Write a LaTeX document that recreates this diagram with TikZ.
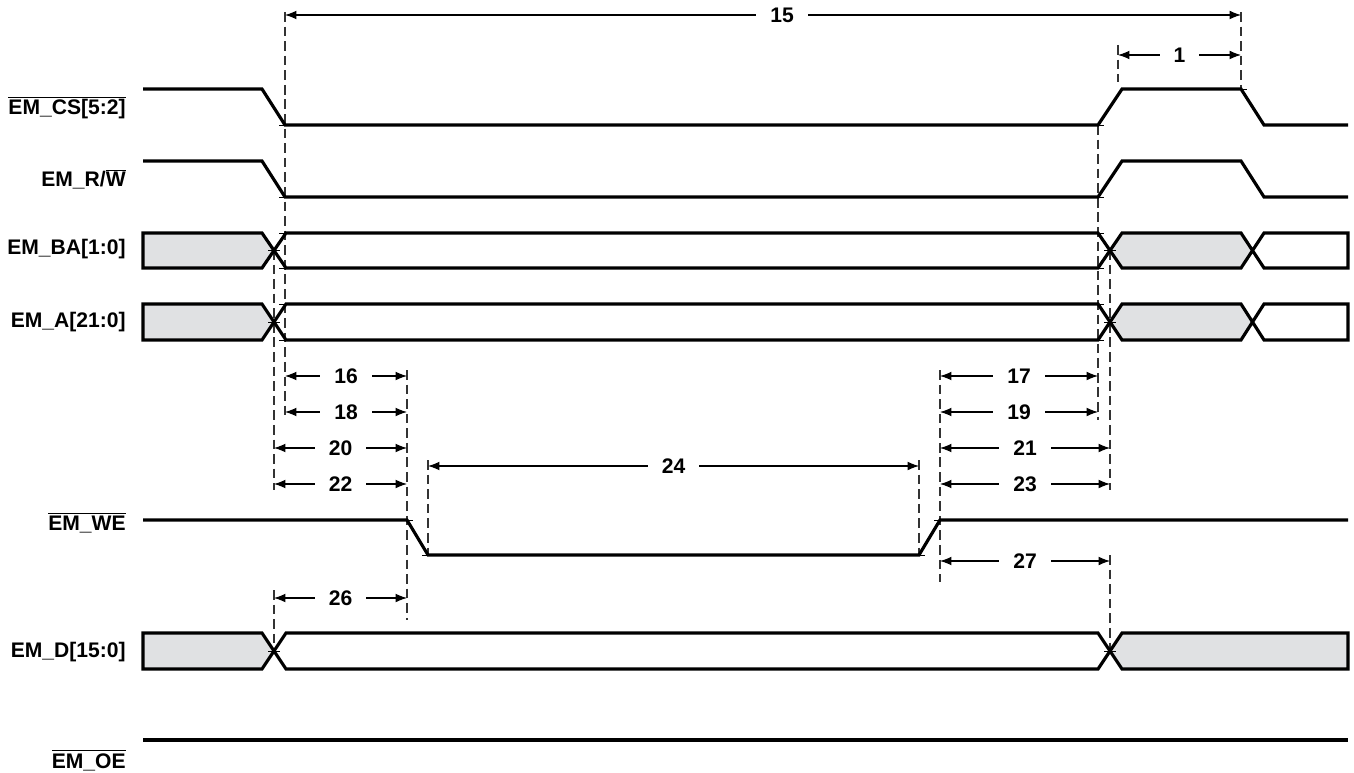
\documentclass[tikz,border=0pt]{standalone}
\usepackage{fontspec}
\setmainfont{Liberation Sans}
\usepackage{tikz}
\usetikzlibrary{arrows.meta}

\newcommand{\ovl}[1]{$\overline{\mbox{#1}}$}
\definecolor{busgray}{RGB}{224,225,227}

\begin{document}
\begin{tikzpicture}[x=0.02cm, y=-0.02cm,
    sig/.style={line width=1.8pt, line join=miter},
    guide/.style={black!80, line width=0.6pt, dash pattern=on 5.5pt off 2.8pt},
    dim/.style={line width=0.6pt, {Latex[length=6.5pt,width=5pt]}-{Latex[length=6.5pt,width=5pt]}},
    dimlbl/.style={fill=white, inner xsep=8pt, inner ysep=1pt, font=\fontsize{12}{14}\selectfont\bfseries},
    siglbl/.style={anchor=base east, inner sep=0pt, font=\fontsize{12}{14}\selectfont\bfseries}]
\useasboundingbox (0,0) rectangle (1354,773);

% signal names
\node[siglbl] (cs) at (126,115) {\ovl{EM\_CS[5:2]}};
\node[siglbl] (rw) at (126,187) {EM\_R/\ovl{W}};
\node[siglbl] (ba) at (126,255) {EM\_BA[1:0]};
\node[siglbl] (ad) at (126,327) {EM\_A[21:0]};
\node[siglbl] (we) at (126,530) {\ovl{EM\_WE}};
\node[siglbl] (dd) at (126,657) {EM\_D[15:0]};
\node[siglbl] (oe) at (126,768) {\ovl{EM\_OE}};

% guide lines
\foreach \xx/\ya/\yb in {285/12/420, 274/250/490, 274/590/650, 407/370/620,
    428/460/555, 919/460/555, 940/370/582, 1098/125/420, 1110/250/490,
    1110/555/650, 1241/12/89, 1118/45/82}
    \draw[guide] (\xx,\ya) -- (\xx,\yb);

% chip select and read/write
\foreach \hi/\lo in {89/125, 161/197}
    \draw[sig] (143,\hi) -- (262,\hi) -- (285,\lo) -- (1098,\lo) -- (1122,\hi)
        -- (1241,\hi) -- (1264,\lo) -- (1348,\lo);

% address buses
\foreach \tp/\bt in {233/268, 304/340} {
    \fill[busgray] (143,\tp) -- (262,\tp) -- (274,{(\tp+\bt)/2}) -- (262,\bt) -- (143,\bt) -- cycle;
    \fill[busgray] (1122,\tp) -- (1241,\tp) -- (1253,{(\tp+\bt)/2}) -- (1241,\bt)
        -- (1122,\bt) -- (1110,{(\tp+\bt)/2}) -- cycle;
    \draw[sig] (143,\tp) -- (262,\tp) -- (286,\bt) -- (1098,\bt) -- (1122,\tp) -- (1241,\tp)
        -- (1264,\bt) -- (1348,\bt) -- (1348,\tp) -- (1264,\tp) -- (1241,\bt) -- (1122,\bt)
        -- (1098,\tp) -- (286,\tp) -- (262,\bt) -- (143,\bt) -- cycle;
}

% write enable
\draw[sig] (143,520) -- (407,520) -- (428,555) -- (919,555) -- (940,520) -- (1348,520);

% data bus
\fill[busgray] (143,633) -- (262,633) -- (274,651) -- (262,669) -- (143,669) -- cycle;
\fill[busgray] (1348,633) -- (1122,633) -- (1110,651) -- (1122,669) -- (1348,669) -- cycle;
\draw[sig] (143,633) -- (262,633) -- (286,669) -- (1098,669) -- (1122,633) -- (1348,633)
    -- (1348,669) -- (1122,669) -- (1098,633) -- (286,633) -- (262,669) -- (143,669) -- cycle;

% output enable
\draw[sig] (143,740) -- (1348,740);

% small ticks
\foreach \xx/\yy in {285/125, 1098/125, 1241/89, 285/197, 1098/197,
    285/233, 285/268, 274/250, 1098/233, 1098/268, 1110/250,
    285/304, 285/340, 274/322, 1098/304, 1098/340, 1110/322,
    407/520, 428/555, 919/555, 940/520, 274/651, 1110/651}
    \draw[line width=0.5pt] (\xx-6,\yy) -- (\xx+6,\yy);

% timing parameters
\coordinate (l15) at (285,15);
\coordinate (r15) at (1241,15);
\draw[dim] (l15) -- node[dimlbl, pos=.52] {15} (r15);
\foreach \n/\xa/\xb/\yy in {1/1118/1241/55, 16/285/407/376, 18/285/407/412,
    20/274/407/448, 22/274/407/484, 24/428/919/466, 17/940/1098/376,
    19/940/1098/412, 21/940/1110/448, 23/940/1110/484, 27/940/1110/561,
    26/274/407/598} {
    \coordinate (l\n) at (\xa,\yy);
    \coordinate (r\n) at (\xb,\yy);
    \draw[dim] (l\n) -- node[dimlbl] {\n} (r\n);
}
\end{tikzpicture}
\end{document}
